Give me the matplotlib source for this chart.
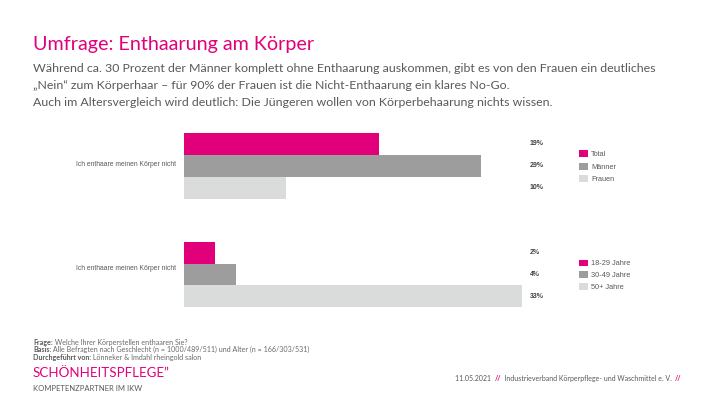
import matplotlib
matplotlib.use("Agg")
import matplotlib.pyplot as plt
import matplotlib.transforms as mtransforms

# ---------------- data ----------------
category = "Ich enthaare meinen Körper nicht"
gender_series = ["Total", "Männer", "Frauen"]
gender_values = [19, 29, 10]
gender_labels = ["19%", "29%", "10%"]
age_series = ["18-29 Jahre", "30-49 Jahre", "50+ Jahre"]
age_values = [3.0, 5.1, 33]
age_labels = ["2%", "4%", "33%"]

title = "Umfrage: Enthaarung am Körper"
subtitle = [
    "Während ca. 30 Prozent der Männer komplett ohne Enthaarung auskommen, gibt es von den Frauen ein deutliches",
    "„Nein“ zum Körperhaar – für 90% der Frauen ist die Nicht-Enthaarung ein klares No-Go.",
    "Auch im Altersvergleich wird deutlich: Die Jüngeren wollen von Körperbehaarung nichts wissen.",
]
footnotes = [
    ("Frage:", " Welche Ihrer Körperstellen enthaaren Sie?"),
    ("Basis:", " Alle Befragten nach Geschlecht (n = 1000/489/511) und Alter (n = 166/303/531)"),
    ("Durchgeführt von:", " Lönneker & Imdahl rheingold salon"),
]
logo_main = "SCHÖNHEITSPFLEGE\u201d"
logo_sub = "KOMPETENZPARTNER IM IKW"
footer_date = "11.05.2021"
footer_org = "Industrieverband Körperpflege- und Waschmittel e. V."

# ---------------- style ----------------
MAGENTA = "#E2007A"
GRAY = "#9D9D9D"
LIGHT = "#DADCDB"
TEXT = "#595959"
colors = [MAGENTA, GRAY, LIGHT]

W, H = 710, 399
fig = plt.figure(figsize=(W / 100, H / 100), dpi=100)
fig.patch.set_facecolor("white")
renderer = fig.canvas.get_renderer()

SANS = ["Liberation Sans", "DejaVu Sans"]
HUM = ["Lato", "Open Sans", "DejaVu Sans"]


def fx(x):
    return x / W


def fy(y):
    return 1 - y / H


def fit(t, target_px):
    w = t.get_window_extent(renderer).width
    t.set_fontsize(t.get_fontsize() * target_px / w)
    return t.get_fontsize()


def runs(x, y, pieces, va="baseline"):
    cur = x
    out = []
    for s, kw in pieces:
        t = fig.text(fx(cur), fy(y), s, va=va, ha="left", **kw)
        cur += t.get_window_extent(renderer).width
        out.append(t)
    return out


# ---------------- header ----------------
tt = fig.text(fx(33), fy(50), title, color=MAGENTA, family=HUM, fontsize=14, va="baseline")
fit(tt, 282)

st = fig.text(fx(33), fy(72), subtitle[0], color=TEXT, family=HUM, fontsize=9, va="baseline")
fs_sub = fit(st, 628)
for i, line in enumerate(subtitle[1:], start=1):
    fig.text(fx(33), fy(72 + 17 * i), line, color=TEXT, family=HUM, fontsize=fs_sub, va="baseline")

# ---------------- bars ----------------
PX_PER_PCT = (481 - 184) / 29.0
XMAX = 35
ax_w = XMAX * PX_PER_PCT
LEG_FS = 5.3


def bar_group(top, bottom, series, values, labels, cat_y, leg_top, spacing):
    ax = fig.add_axes([fx(184), fy(bottom), ax_w / W, (bottom - top) / H])
    ypos = list(range(len(values)))
    bars = ax.barh(ypos, values, height=1.0, color=colors, edgecolor="none")
    ax.set_xlim(0, XMAX)
    ax.set_ylim(len(values) - 0.5, -0.5)
    ax.axis("off")
    tr = mtransforms.blended_transform_factory(fig.transFigure, ax.transData)
    for yy, lab in zip(ypos, labels):
        ax.text(fx(530), yy, lab, transform=tr, ha="left", va="center",
                fontsize=5.0, fontweight="bold", color="#404040", family=SANS)
    fig.text(fx(176), fy(cat_y), category, ha="right", va="center",
             fontsize=4.85, color=TEXT, family=SANS)
    leg = ax.legend(bars, series, loc="upper left",
                    bbox_to_anchor=(fx(579), fy(leg_top)), bbox_transform=fig.transFigure,
                    frameon=False, fontsize=LEG_FS, borderpad=0, borderaxespad=0,
                    handlelength=1.2, handleheight=1.05, handletextpad=0.45,
                    labelspacing=spacing)
    for t in leg.get_texts():
        t.set_color(TEXT)
        t.set_family(SANS)
    return ax


bar_group(132.7, 199.0, gender_series, gender_values, gender_labels, 164, 150.4, 0.6)
bar_group(241.7, 307.3, age_series, age_values, age_labels, 268.7, 259.5, 0.5)

# ---------------- footer ----------------
fn_size = 4.0
probe = fig.text(0, 0, footnotes[1][0] + footnotes[1][1], family=HUM, fontsize=fn_size)
fn_size = fn_size * 272 / probe.get_window_extent(renderer).width
probe.remove()
bold = dict(color=TEXT, family=HUM, fontsize=fn_size, fontweight="bold")
norm = dict(color="#6a6a6a", family=HUM, fontsize=fn_size)
for i, (b, n) in enumerate(footnotes):
    runs(33, 344.5 + 7.6 * i, [(b, bold), (n, norm)])

lg = fig.text(fx(33), fy(377), logo_main, color=MAGENTA, family=HUM,
              fontsize=10, va="baseline")
fit(lg, 135)
ls = fig.text(fx(33), fy(391), logo_sub, color=TEXT, family=HUM, fontsize=5,
              va="baseline")
fit(ls, 110)

fsz = 5.0
probe = fig.text(0, 0, footer_date + "  //  " + footer_org + "  //", family=HUM, fontsize=fsz)
fsz = fsz * 228 / probe.get_window_extent(renderer).width
probe.remove()
g = dict(color=TEXT, family=HUM, fontsize=fsz)
m = dict(color=MAGENTA, family=HUM, fontsize=fsz, fontweight="bold")
runs(455, 381, [(footer_date + "  ", g), ("//", m), ("  " + footer_org + "  ", g), ("//", m)])

fig.savefig("out.png", dpi=100, facecolor="white")
